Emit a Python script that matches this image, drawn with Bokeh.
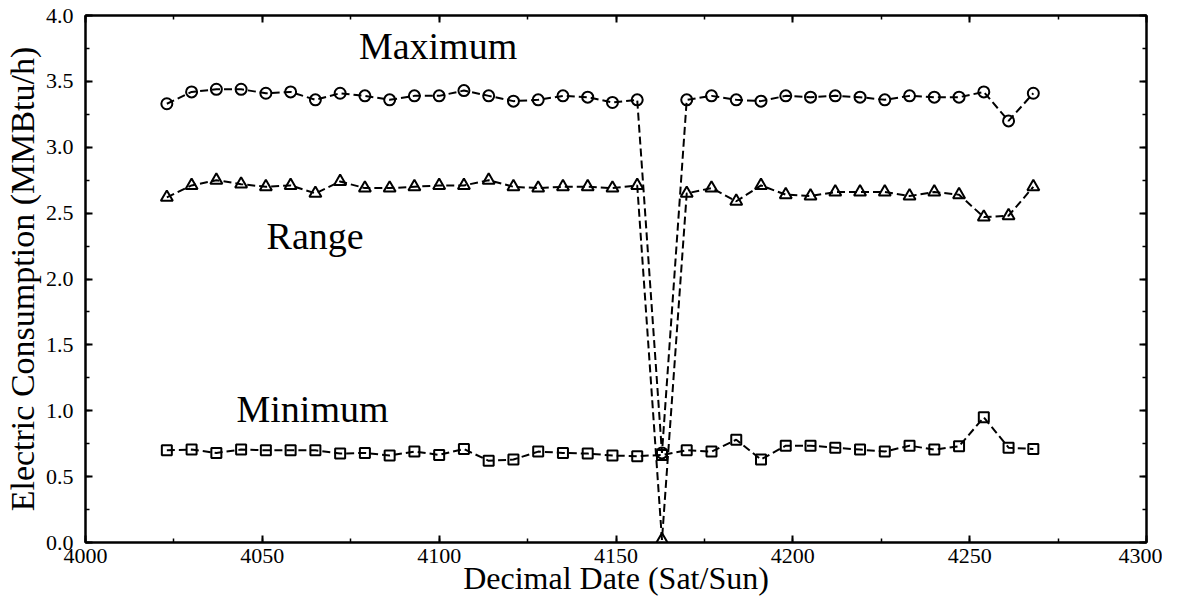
from bokeh.plotting import figure
from bokeh.models import (LinearAxis, Range1d, SingleIntervalTicker, PrintfTickFormatter,
                          CustomJSTickFormatter, Label, ColumnDataSource)
from bokeh.embed import file_html
from bokeh.resources import INLINE

# ---- data ----
dates = [4023, 4030, 4037, 4044, 4051, 4058, 4065, 4072, 4079, 4086, 4093, 4100,
         4107, 4114, 4121, 4128, 4135, 4142, 4149, 4156, 4163, 4170, 4177, 4184,
         4191, 4198, 4205, 4212, 4219, 4226, 4233, 4240, 4247, 4254, 4261, 4268]

maximum = [3.33, 3.42, 3.44, 3.44, 3.41, 3.42, 3.36, 3.41, 3.39, 3.36, 3.39, 3.39,
           3.43, 3.39, 3.35, 3.36, 3.39, 3.38, 3.34, 3.36, 0.68, 3.36, 3.39, 3.36,
           3.35, 3.39, 3.38, 3.39, 3.38, 3.36, 3.39, 3.38, 3.38, 3.42, 3.20, 3.41]

rng = [2.62, 2.71, 2.75, 2.72, 2.70, 2.71, 2.65, 2.74, 2.69, 2.69, 2.70, 2.71,
       2.71, 2.75, 2.70, 2.69, 2.70, 2.70, 2.69, 2.71, 0.02, 2.65, 2.69, 2.59,
       2.71, 2.64, 2.63, 2.66, 2.66, 2.66, 2.63, 2.66, 2.64, 2.47, 2.48, 2.70]

minimum = [0.70, 0.705, 0.68, 0.705, 0.70, 0.70, 0.70, 0.675, 0.68, 0.66, 0.69, 0.665,
           0.71, 0.62, 0.63, 0.69, 0.68, 0.675, 0.66, 0.655, 0.665, 0.70, 0.69, 0.78,
           0.63, 0.735, 0.735, 0.72, 0.705, 0.69, 0.735, 0.705, 0.73, 0.95, 0.72, 0.71]

x_label = "Decimal Date (Sat/Sun)"
y_label = "Electric Consumption (MMBtu/h)"
series_names = ["Maximum", "Range", "Minimum"]

FONT = "Liberation Serif"

src = ColumnDataSource(dict(x=dates, mx=maximum, rg=rng, mn=minimum))

xt = SingleIntervalTicker(interval=50, num_minor_ticks=2)
yt = SingleIntervalTicker(interval=0.5, num_minor_ticks=2)

p = figure(width=1162, height=602,
           x_range=Range1d(4000, 4300), y_range=Range1d(0, 4.0),
           x_axis_location=None, y_axis_location=None,
           output_backend="svg", toolbar_location=None,
           min_border_left=79, min_border_top=15, min_border_right=16, min_border_bottom=60)
p.background_fill_color = "white"
p.border_fill_color = "white"
p.outline_line_color = "black"
p.outline_line_width = 2
p.xgrid.visible = False
p.ygrid.visible = False

bottom = LinearAxis(ticker=xt, axis_label=x_label)
left = LinearAxis(ticker=yt, axis_label=y_label, formatter=PrintfTickFormatter(format="%.1f"))
empty = CustomJSTickFormatter(code="return ''")
top = LinearAxis(ticker=xt, formatter=empty)
right = LinearAxis(ticker=yt, formatter=empty)

p.add_layout(bottom, "below")
p.add_layout(left, "left")
p.add_layout(top, "above")
p.add_layout(right, "right")

for ax in (bottom, left, top, right):
    ax.axis_line_color = "black"
    ax.axis_line_width = 2
    ax.major_tick_in = 7
    ax.major_tick_out = 0
    ax.minor_tick_in = 4
    ax.minor_tick_out = 0
    ax.major_tick_line_color = "black"
    ax.major_tick_line_width = 2
    ax.minor_tick_line_color = "black"
    ax.minor_tick_line_width = 1.5
    ax.major_label_text_font = FONT
    ax.major_label_text_font_size = "22px"
    ax.major_label_text_color = "black"
    ax.axis_label_text_font = FONT
    ax.axis_label_text_font_style = "normal"
    ax.axis_label_text_color = "black"
    ax.axis_label_text_font_size = "34px"

top.major_label_standoff = 0
right.major_label_standoff = 0

bottom.axis_label_text_font_size = "32px"
bottom.major_label_standoff = 6
bottom.axis_label_standoff = -6
left.major_label_standoff = 12
left.axis_label_standoff = 2

DASH = "8 4"
p.line("x", "mx", source=src, line_color="black", line_width=2, line_dash=DASH)
p.line("x", "rg", source=src, line_color="black", line_width=2, line_dash=DASH)
p.line("x", "mn", source=src, line_color="black", line_width=2, line_dash=DASH)

p.scatter("x", "mx", source=src, marker="circle", size=11, fill_alpha=0,
          line_color="black", line_width=2)
p.scatter("x", "rg", source=src, marker="triangle", size=12, fill_alpha=0,
          line_color="black", line_width=2)
p.scatter("x", "mn", source=src, marker="square", size=10, fill_alpha=0,
          line_color="black", line_width=2)

label_pos = [(4077.3, 3.77), (4051.2, 2.33), (4042.7, 1.015)]
for name, (lx, ly) in zip(series_names, label_pos):
    p.add_layout(Label(x=lx, y=ly, text=name, text_font=FONT, text_font_size="38px",
                       text_color="black", text_baseline="alphabetic", text_align="left"))

open("out.html", "w").write(file_html(p, INLINE))
